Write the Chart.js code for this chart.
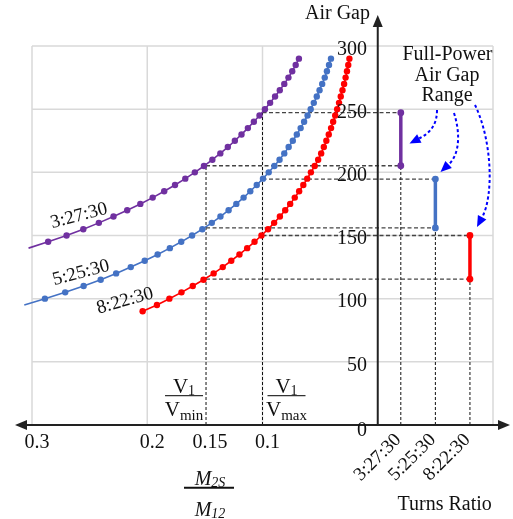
<!DOCTYPE html>
<html><head><meta charset="utf-8">
<script src="https://cdn.jsdelivr.net/npm/chart.js@4.4.0/dist/chart.umd.min.js"></script>
<style>html,body{margin:0;padding:0;background:#fff;overflow:hidden}</style>
</head><body>
<canvas id="c" width="513" height="519"></canvas>
<script>
// ---------- data ----------
const gap3_27 = [140,145,150,155,160,165,170,175,180,185,190,195,200,205,210,215,220,225,230,235,240,245,250,255,260,265,270,275,280,285,290];
const ratio3_27 = [0.303,0.286,0.270,0.2555,0.2420,0.2293,0.2174,0.2060,0.1953,0.1853,0.1759,0.1670,0.1587,0.1508,0.1435,0.1366,0.1301,0.1240,0.1182,0.1127,0.1075,0.1026,0.0979,0.0934,0.0891,0.0850,0.0811,0.0775,0.0742,0.0712,0.0684];
const gap5_25 = [95,100,105,110,115,120,125,130,135,140,145,150,155,160,165,170,175,180,185,190,195,200,205,210,215,220,225,230,235,240,245,250,255,260,265,270,275,280,285,290];
const ratio5_25 = [0.3067,0.2888,0.2712,0.2552,0.2404,0.2270,0.2143,0.2022,0.1910,0.1804,0.1705,0.1611,0.1522,0.1440,0.1365,0.1294,0.1227,0.1164,0.1106,0.1050,0.0996,0.0946,0.0897,0.0852,0.0811,0.0773,0.0737,0.0702,0.0669,0.0639,0.0609,0.0582,0.0555,0.0529,0.0505,0.0482,0.0460,0.0441,0.0423,0.0406];
const gap8_22 = [90,95,100,105,110,115,120,125,130,135,140,145,150,155,160,165,170,175,180,185,190,195,200,205,210,215,220,225,230,235,240,245,250,255,260,265,270,275,280,285,290];
const ratio8_22 = [0.2040,0.1916,0.1808,0.1703,0.1605,0.1512,0.1424,0.1345,0.1271,0.1200,0.1133,0.1069,0.1009,0.0952,0.0899,0.0849,0.0803,0.0760,0.0720,0.0682,0.0646,0.0612,0.0580,0.0547,0.0517,0.0491,0.0468,0.0446,0.0425,0.0405,0.0387,0.0369,0.0352,0.0336,0.0321,0.0306,0.0292,0.0279,0.0267,0.0256,0.0246];

const turnsRatios = ['3:27:30','5:25:30','8:22:30'];
const turnsPos = [-0.02,-0.05,-0.08];
const rangeMin = [205.2,156,115.5];
const rangeMax = [247.2,194.7,150];
const vMinRatio = 0.149;
const vMaxRatio = 0.1;

const xTickVals = [0.3,0.2,0.15,0.1];
const xTickLabels = ['0.3','0.2','0.15','0.1'];
const xGridVals = [0.3,0.2,0.1,-0.1];
const yTickVals = [0,50,100,150,200,250,300];
const yTickLabels = ['0','50','100','150','200','250','300'];

const colors = ['#7030A0','#4472C4','#FF0000'];
const SERIF = '"Liberation Serif","DejaVu Serif",serif';

// ---------- datasets ----------
function pts(xs, ys){ return xs.map((v,i)=>({x:v,y:ys[i]})); }
const curves = [
  {xs:ratio3_27, ys:gap3_27, hideFirst:true},
  {xs:ratio5_25, ys:gap5_25, hideFirst:true},
  {xs:ratio8_22, ys:gap8_22, hideFirst:false}
];
const datasets = [];
curves.forEach((c,i)=>{
  datasets.push({
    data: pts(c.xs, c.ys), showLine:true, borderColor:colors[i], backgroundColor:colors[i],
    borderWidth:1.6, pointRadius: c.ys.map((_,k)=> (k===0 && c.hideFirst) ? 0 : 3.2),
    pointBorderWidth:0, tension:0, clip:false, order:1
  });
});
turnsPos.forEach((p,i)=>{
  datasets.push({
    data:[{x:p,y:rangeMin[i]},{x:p,y:rangeMax[i]}], showLine:true,
    borderColor:colors[i], backgroundColor:colors[i], borderWidth:3.5,
    pointRadius:3.4, pointBorderWidth:0, clip:false, order:1
  });
});
function dashed(a, b, horiz){
  datasets.push({
    data:[a,b], showLine:true, borderColor: horiz ? '#444' : '#111', borderWidth: horiz?1.3:1,
    borderDash: horiz?[4,2.5]:[3,2], pointRadius:0, clip:false, order:5
  });
}
turnsPos.forEach((p,i)=>{
  dashed({x:vMinRatio,y:rangeMin[i]},{x:p,y:rangeMin[i]},true);
  dashed({x:vMaxRatio,y:rangeMax[i]},{x:p,y:rangeMax[i]},true);
  dashed({x:p,y:0},{x:p,y:rangeMin[i]},false);
});
dashed({x:vMinRatio,y:0},{x:vMinRatio,y:rangeMin[0]},false);
dashed({x:vMaxRatio,y:0},{x:vMaxRatio,y:rangeMax[0]},false);

// ---------- drawing helpers ----------
function txt(ctx,s,x,y,size,align,base,opts){
  opts = opts||{};
  ctx.save();
  ctx.font = (opts.italic?'italic ':'') + size + 'px ' + SERIF;
  ctx.fillStyle = opts.color || '#111';
  ctx.textAlign = align; ctx.textBaseline = base;
  if (opts.rot!==undefined){ ctx.translate(x,y); ctx.rotate(opts.rot); ctx.fillText(s,0,0); }
  else ctx.fillText(s,x,y);
  ctx.restore();
}
function subText(ctx, main, sub, cx, base, mSize, sSize, italic, subDrop){
  ctx.save();
  const fm = (italic?'italic ':'') + mSize + 'px ' + SERIF;
  const fs = (italic?'italic ':'') + sSize + 'px ' + SERIF;
  ctx.font = fm; const w1 = ctx.measureText(main).width;
  ctx.font = fs; const w2 = ctx.measureText(sub).width;
  const x0 = cx - (w1+w2)/2;
  ctx.fillStyle='#111'; ctx.textBaseline='alphabetic'; ctx.textAlign='left';
  ctx.font = fm; ctx.fillText(main, x0, base);
  ctx.font = fs; ctx.fillText(sub, x0+w1, base+subDrop);
  ctx.restore();
}
function arrowHead(ctx, tip, ang, L, W){
  const bx = tip[0]-L*Math.cos(ang), by = tip[1]-L*Math.sin(ang);
  ctx.beginPath(); ctx.moveTo(tip[0],tip[1]);
  ctx.lineTo(bx+W*Math.sin(ang), by-W*Math.cos(ang));
  ctx.lineTo(bx-W*Math.sin(ang), by+W*Math.cos(ang));
  ctx.closePath(); ctx.fill();
  return [bx,by];
}
function curvedArrow(ctx,p0,c1,c2,tip){
  ctx.save();
  ctx.strokeStyle='#0000FF'; ctx.fillStyle='#0000FF'; ctx.lineWidth=2;
  const ang = Math.atan2(tip[1]-c2[1], tip[0]-c2[0]);
  const base = arrowHead(ctx, tip, ang, 11, 4.8);
  ctx.setLineDash([3,2.5]);
  ctx.beginPath(); ctx.moveTo(p0[0],p0[1]); ctx.bezierCurveTo(c1[0],c1[1],c2[0],c2[1],base[0],base[1]); ctx.stroke();
  ctx.restore();
}

const deco = {
  id:'deco',
  beforeDatasetsDraw(chart){
    const {ctx, chartArea:a, scales:{x,y}} = chart;
    ctx.save();
    ctx.strokeStyle='#d9d9d9'; ctx.lineWidth=1.5;
    yTickVals.forEach(v=>{ if(v===0) return; const py=y.getPixelForValue(v);
      ctx.beginPath(); ctx.moveTo(a.left,py); ctx.lineTo(a.right,py); ctx.stroke(); });
    xGridVals.forEach(v=>{ const px=x.getPixelForValue(v);
      ctx.beginPath(); ctx.moveTo(px,a.top); ctx.lineTo(px,a.bottom); ctx.stroke(); });
    ctx.restore();
  },
  afterDatasetsDraw(chart){
    const {ctx, chartArea:a, scales:{x,y}} = chart;
    const x0 = x.getPixelForValue(0), y0 = y.getPixelForValue(0);
    // axes
    ctx.save();
    ctx.strokeStyle='#222'; ctx.fillStyle='#222'; ctx.lineWidth=2;
    ctx.beginPath(); ctx.moveTo(22,y0); ctx.lineTo(503,y0); ctx.stroke();
    ctx.beginPath(); ctx.moveTo(x0,y0); ctx.lineTo(x0,22); ctx.stroke();
    arrowHead(ctx,[510,y0],0,12,5);
    arrowHead(ctx,[15,y0],Math.PI,12,5);
    arrowHead(ctx,[x0,15],-Math.PI/2,12,5);
    ctx.restore();
    // y tick labels
    yTickVals.forEach((v,i)=>{
      const py = y.getPixelForValue(v) + (v===0?6:3.5);
      txt(ctx,yTickLabels[i],367,py,20,'right','middle');
    });
    // x tick labels
    xTickVals.forEach((v,i)=>{
      txt(ctx,xTickLabels[i],x.getPixelForValue(v)+5,448,20,'center','alphabetic');
    });
    // category labels
    turnsPos.forEach((p,i)=>{
      txt(ctx,turnsRatios[i],x.getPixelForValue(p)-2.5,437,19,'right','middle',{rot:-Math.PI/4});
    });
    // axis titles
    txt(ctx,'Air Gap',337.5,18.5,20,'center','alphabetic');
    txt(ctx,'Turns Ratio',444.7,510,20,'center','alphabetic');
    txt(ctx,'Full-Power',447.5,60,20,'center','alphabetic');
    txt(ctx,'Air Gap',447,80.5,20,'center','alphabetic');
    txt(ctx,'Range',447,101,20,'center','alphabetic');
    // curve labels
    txt(ctx,'3:27:30',79,216,19,'center','middle',{rot:-0.26});
    txt(ctx,'5:25:30',81,273,19,'center','middle',{rot:-0.26});
    txt(ctx,'8:22:30',125,301,19,'center','middle',{rot:-0.28});
    // V1/Vmin and V1/Vmax fractions
    const pMin = x.getPixelForValue(vMinRatio), pMax = x.getPixelForValue(vMaxRatio);
    [[pMin-22,'min'],[pMax+24,'max']].forEach(([cx,s])=>{
      subText(ctx,'V','1',cx,393,21,14,false,2);
      ctx.save(); ctx.strokeStyle='#333'; ctx.lineWidth=1.2;
      ctx.beginPath(); ctx.moveTo(cx-19,395.7); ctx.lineTo(cx+19,395.7); ctx.stroke(); ctx.restore();
      subText(ctx,'V',s,cx,416,21,15,false,4);
    });
    // M2S / M12
    subText(ctx,'M','2S',210,485,20,14,true,1.5);
    ctx.save(); ctx.strokeStyle='#111'; ctx.lineWidth=2;
    ctx.beginPath(); ctx.moveTo(184,487.7); ctx.lineTo(234,487.7); ctx.stroke(); ctx.restore();
    subText(ctx,'M','12',210,516,20,14,true,1.5);
    // arrows
    curvedArrow(ctx,[437,110],[437,125],[430,133],[409.5,143.5]);
    curvedArrow(ctx,[454,113],[461,135],[459,155],[440.5,172]);
    curvedArrow(ctx,[475,105],[492,140],[494,195],[477,227]);
  }
};

new Chart(document.getElementById('c').getContext('2d'), {
  type:'scatter',
  data:{datasets},
  options:{
    responsive:false, animation:false, events:[],
    layout:{padding:{left:32,right:20,top:46,bottom:94}},
    scales:{
      x:{type:'linear',min:-0.1,max:0.3,reverse:true,display:false},
      y:{type:'linear',min:0,max:300,display:false}
    },
    plugins:{legend:{display:false},tooltip:{enabled:false}}
  },
  plugins:[deco]
});
</script>
</body></html>
